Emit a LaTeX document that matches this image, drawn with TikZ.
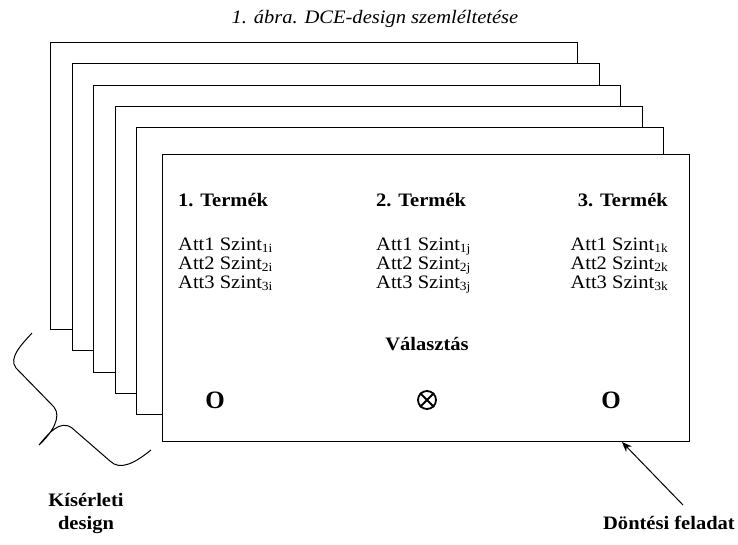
\documentclass[tikz,border=0pt]{standalone}
\usepackage{fontspec}
\setmainfont{Liberation Serif}[FakeStretch=1.08]
\newfontfamily\ofont{Liberation Serif}
\usetikzlibrary{arrows.meta}
\newcommand\lowsub[1]{\raisebox{-2.5pt}{\fontsize{12.5}{12.5}\selectfont #1}}
\begin{document}
\begin{tikzpicture}[x=1pt,y=-1pt,
  card/.style={draw=black, fill=white, line width=1.3pt, rectangle, inner sep=0pt,
    minimum width=527pt, minimum height=287pt, anchor=north west},
  rt/.style={font=\fontsize{19}{21}\selectfont, inner sep=0pt},
  bt/.style={font=\fontsize{19}{21}\selectfont\bfseries, inner sep=0pt},
  ot/.style={font=\ofont\fontsize{25}{26}\selectfont\bfseries, inner sep=0pt},
  arr/.style={-{Stealth[length=10pt,width=8pt]}, line width=1pt}]
\useasboundingbox (0,0) rectangle (738,544);
\node[font=\fontsize{19}{21}\selectfont\itshape, inner sep=0pt, anchor=base] (title) at (375,23) {1. ábra. DCE-design szemléltetése};
\node[card] (c1) at (50,42) {};
\node[card] (c2) at (72,63) {};
\node[card] (c3) at (93,85) {};
\node[card] (c4) at (115,106) {};
\node[card] (c5) at (136,127) {};
\node[card] (front) at (162,154) {};
% product headings
\node[bt, anchor=base west] (t1) at (178,206) {1. Termék};
\node[bt, anchor=base west] (t2) at (376,206) {2. Termék};
\node[bt, anchor=base east] (t3) at (668,206) {3. Termék};
% attributes
\node[rt, anchor=base west] (a11) at (178,250) {Att1 Szint\lowsub{1i}};
\node[rt, anchor=base west] (a12) at (178,269) {Att2 Szint\lowsub{2i}};
\node[rt, anchor=base west] (a13) at (178,288) {Att3 Szint\lowsub{3i}};
\node[rt, anchor=base west] (a21) at (376,250) {Att1 Szint\lowsub{1j}};
\node[rt, anchor=base west] (a22) at (376,269) {Att2 Szint\lowsub{2j}};
\node[rt, anchor=base west] (a23) at (376,288) {Att3 Szint\lowsub{3j}};
\node[rt, anchor=base east] (a31) at (668,250) {Att1 Szint\lowsub{1k}};
\node[rt, anchor=base east] (a32) at (668,269) {Att2 Szint\lowsub{2k}};
\node[rt, anchor=base east] (a33) at (668,288) {Att3 Szint\lowsub{3k}};
\node[bt, anchor=base] (val) at (427,350) {Választás};
% choices
\node[ot] (o1) at (215,400) {O};
\node[ot] (o3) at (611,400) {O};
\node[circle, draw, line width=1.8pt, minimum size=18pt, inner sep=0pt] (ch) at (427,400) {};
\draw[line width=1.8pt] (ch.45) -- (ch.225) (ch.135) -- (ch.315);
% brace
\draw[line width=1pt] (32,333) .. controls (22,344) and (8,358) .. (16,368)
  -- (54,407) .. controls (62,417) and (52,433) .. (39,445)
  .. controls (48,434) and (60,419) .. (72,428)
  -- (110,461) .. controls (120,471) and (135,463) .. (151,450);
% labels
\node[bt, anchor=base] (kis) at (86,506) {Kísérleti};
\node[bt, anchor=base] (des) at (86,529) {design};
\node[bt, anchor=base] (dont) at (669,529) {Döntési feladat};
\coordinate (tail) at (683,505);
\coordinate (tip) at (622,442);
\draw[arr] (tail) -- (tip);
\end{tikzpicture}
\end{document}
